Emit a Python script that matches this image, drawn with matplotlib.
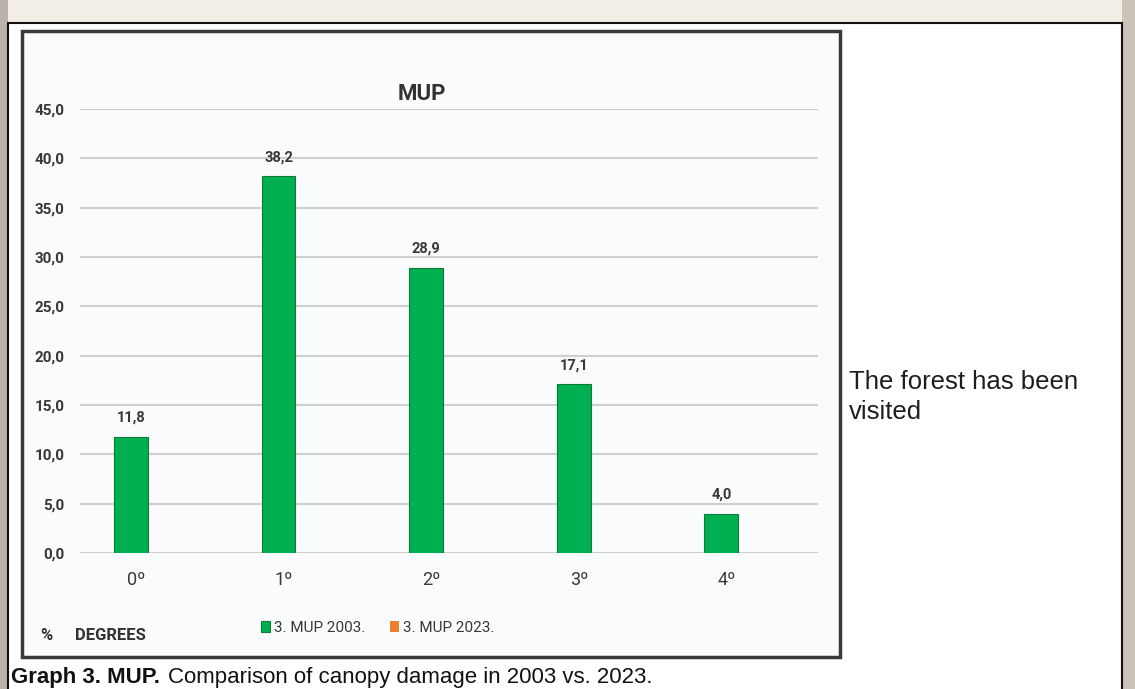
import numpy as np
import matplotlib
matplotlib.use('Agg')
from matplotlib import pyplot as plt
from matplotlib.patches import Rectangle

W, H = 1135, 689

# Canopy damage by degree, share in %
degrees   = ['0º', '1º', '2º', '3º', '4º']
mup_2003  = [11.8, 38.2, 28.9, 17.1, 4.0]
mup_2023  = [0.0, 0.0, 0.0, 0.0, 0.0]
yticks    = [0, 5, 10, 15, 20, 25, 30, 35, 40, 45]

GREEN  = '#00b050'
ORANGE = '#ed7d31'
TXT    = '#383838'
NARROW = ['Roboto', 'DejaVu Sans']
ARIAL  = ['Liberation Sans', 'DejaVu Sans']


def fx(px):
    return px / W


def fy(py):
    return 1 - py / H


def box(x0, y0, x1, y1, **kw):
    fig.patches.append(Rectangle((fx(x0), fy(y1)), fx(x1) - fx(x0), fy(y0) - fy(y1),
                                 transform=fig.transFigure, **kw))


fig = plt.figure(figsize=(W / 100, H / 100), dpi=100)
fig.patch.set_facecolor('#ece5d6')

# blurred backdrop strips and the page
box(0, 0, W, 23, facecolor='#f3efe6', edgecolor='none', zorder=0)
box(0, 0, 8, H, facecolor='#b9b3aa', edgecolor='none', zorder=0)
box(1122, 0, W, H, facecolor='#c9c3b8', edgecolor='none', zorder=0)
box(8, 23, 1122, H + 5, facecolor='white', edgecolor='#111111', linewidth=1.5, zorder=1)
box(22, 31, 840, 657, facecolor='#f9fbfd', edgecolor='#3a3a3a', linewidth=2.5, zorder=2)

ax = fig.add_axes([fx(80), fy(553), fx(818) - fx(80), fy(109) - fy(553)], zorder=3)
ax.set_facecolor('none')

x = np.arange(len(degrees))
b1 = ax.bar(x - 0.155, mup_2003, width=0.23, color=GREEN, edgecolor='#0d7a38',
            linewidth=0.8, label='3. MUP 2003.', zorder=3)
b2 = ax.bar(x + 0.08, mup_2023, width=0.23, color=ORANGE, edgecolor='none',
            label='3. MUP 2023.', zorder=3)

for rect, v in zip(b1, mup_2003):
    ax.text(rect.get_x() + rect.get_width() / 2, v + 1.2, f'{v:.1f}'.replace('.', ','),
            ha='center', va='bottom', fontsize=10.5, fontweight='bold', color=TXT,
            family=NARROW)

ax.set_xlim(-0.5, 4.5)
ax.set_ylim(0, 45)
ax.set_yticks(yticks)
ax.set_yticklabels([f'{v:.1f}'.replace('.', ',') for v in yticks],
                   fontsize=11, fontweight='bold', color=TXT, family=NARROW)
ax.set_xticks(x - 0.12)
ax.set_xticklabels(degrees, fontsize=13, color=TXT, family=NARROW)
ax.tick_params(axis='both', length=0)
ax.tick_params(axis='y', pad=11)
ax.tick_params(axis='x', pad=13)
ax.yaxis.grid(True, color='#cfcfcf', linewidth=1.5)
ax.set_axisbelow(True)
for s in ax.spines.values():
    s.set_visible(False)

fig.text(fx(422), fy(94), 'MUP', ha='center', va='center', fontsize=16,
         fontweight='bold', color='#333333', family=NARROW, zorder=4)

leg = fig.legend(handles=[b1, b2], loc='center', bbox_to_anchor=(fx(378), fy(628)),
                 ncol=2, frameon=False, handlelength=0.55, handleheight=0.7,
                 handletextpad=0.3, columnspacing=1.6,
                 prop={'family': NARROW, 'size': 11})
for t in leg.get_texts():
    t.set_color(TXT)
leg.set_zorder(4)

fig.text(fx(40), fy(636), '%', ha='left', va='center', fontsize=12,
         fontweight='bold', color='#333333', family=NARROW, zorder=4)
fig.text(fx(75), fy(636), 'DEGREES', ha='left', va='center', fontsize=12,
         fontweight='bold', color='#333333', family=NARROW, zorder=4)

fig.text(fx(849), fy(397), 'The forest has been\nvisited', ha='left', va='center',
         fontsize=18.5, color='#1e1e1e', family=ARIAL, linespacing=1.35, zorder=4)

# caption: bold lead-in, then the rest right after it
cap = fig.text(fx(11), fy(683), 'Graph 3. MUP.', ha='left', va='baseline', fontsize=16,
               fontweight='bold', color='#111111', family=ARIAL, zorder=4)
fig.canvas.draw()
bb = cap.get_window_extent()
fig.text(bb.x1 / W + fx(8), fy(683), 'Comparison of canopy damage in 2003 vs. 2023.',
         ha='left', va='baseline', fontsize=16, color='#111111', family=ARIAL, zorder=4)

fig.savefig('out.png', dpi=100, facecolor=fig.get_facecolor())
